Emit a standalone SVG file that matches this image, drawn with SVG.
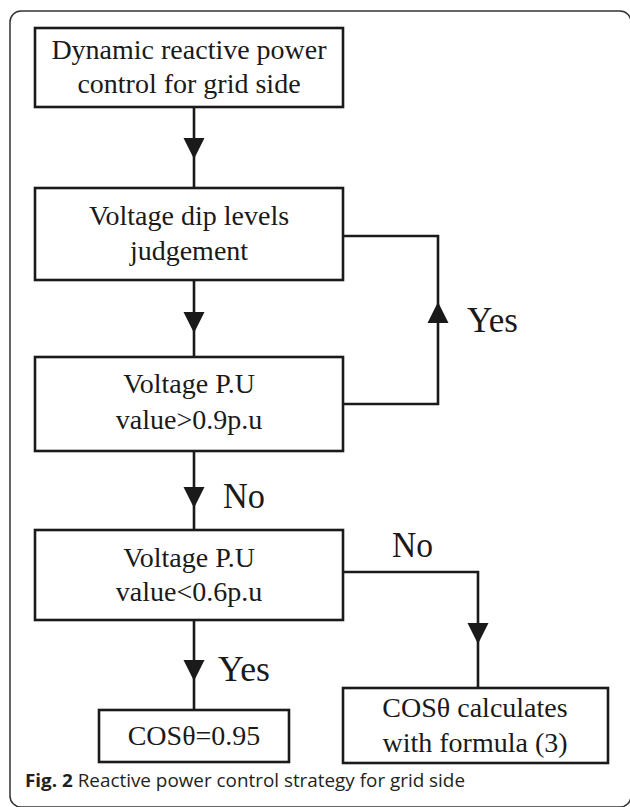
<svg xmlns="http://www.w3.org/2000/svg" width="630" height="807" viewBox="0 0 630 807">
<defs>
<style>
.box{fill:#fff;stroke:#1a1a1a;stroke-width:2.6}
.t{font-family:"Liberation Serif","Times New Roman",serif;font-size:28px;fill:#1a1a1a;text-anchor:middle}
.lbl{font-family:"Liberation Serif","Times New Roman",serif;font-size:36px;fill:#1a1a1a}
.ln{fill:none;stroke:#1a1a1a;stroke-width:2.6}
.ah{fill:#1a1a1a}
.frame{fill:none;stroke:#333;stroke-width:1.5}
.cap{font-family:"Open Sans","Noto Sans",sans-serif;font-size:18px;fill:#231f20}
</style>
</defs>
<rect class="frame" x="10" y="11" width="621" height="796" rx="11"/>
<g id="connectors">
<line class="ln" x1="194" y1="107" x2="194" y2="188"/>
<polygon class="ah" points="183.5,138 204.5,138 194,159"/>
<line class="ln" x1="194" y1="280" x2="194" y2="357"/>
<polygon class="ah" points="183.5,312 204.5,312 194,333"/>
<polyline class="ln" points="343,404 438,404 438,236 343,236"/>
<polygon class="ah" points="427.5,323 448.5,323 438,302"/>
<line class="ln" x1="194" y1="451" x2="194" y2="530"/>
<polygon class="ah" points="183.5,487 204.5,487 194,508"/>
<polyline class="ln" points="343,572 478,572 478,688"/>
<polygon class="ah" points="467.5,623 488.5,623 478,644"/>
<line class="ln" x1="194" y1="620" x2="194" y2="710"/>
<polygon class="ah" points="183.5,660 204.5,660 194,681"/>
<text class="lbl" x="467" y="332" textLength="51" lengthAdjust="spacingAndGlyphs">Yes</text>
<text class="lbl" x="223" y="508" textLength="42" lengthAdjust="spacingAndGlyphs">No</text>
<text class="lbl" x="392" y="557" textLength="41" lengthAdjust="spacingAndGlyphs">No</text>
<text class="lbl" x="218" y="681" textLength="52" lengthAdjust="spacingAndGlyphs">Yes</text>
</g>
<g id="n1">
<rect class="box" x="35" y="28" width="308" height="79"/>
<text class="t" x="189" y="59">Dynamic reactive power</text>
<text class="t" x="189" y="93">control for grid side</text>
</g>
<g id="n2">
<rect class="box" x="35" y="188" width="308" height="92"/>
<text class="t" x="189" y="225">Voltage dip levels</text>
<text class="t" x="189" y="260">judgement</text>
</g>
<g id="n3">
<rect class="box" x="35" y="357" width="308" height="94"/>
<text class="t" x="189" y="393">Voltage P.U</text>
<text class="t" x="189" y="429">value&gt;0.9p.u</text>
</g>
<g id="n4">
<rect class="box" x="35" y="530" width="308" height="90"/>
<text class="t" x="189" y="567">Voltage P.U</text>
<text class="t" x="189" y="601">value&lt;0.6p.u</text>
</g>
<g id="n5">
<rect class="box" x="99" y="710" width="190" height="52"/>
<text class="t" x="194" y="745">COSθ=0.95</text>
</g>
<g id="n6">
<rect class="box" x="343" y="688" width="265" height="75"/>
<text class="t" x="475" y="717">COSθ calculates</text>
<text class="t" x="475" y="752">with formula (3)</text>
</g>
<text class="cap" x="25" y="787" textLength="440" lengthAdjust="spacingAndGlyphs"><tspan font-weight="bold">Fig. 2</tspan> Reactive power control strategy for grid side</text>
</svg>
